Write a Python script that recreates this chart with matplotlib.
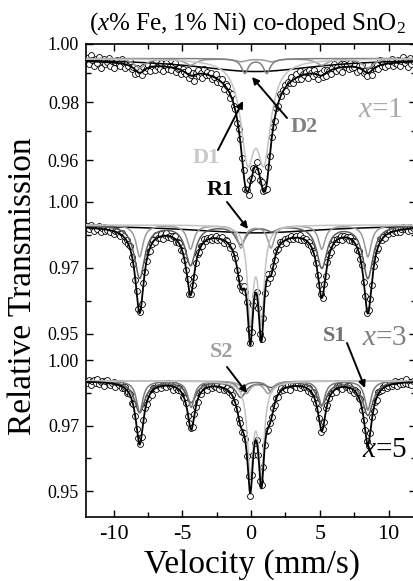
import numpy as np
import matplotlib
matplotlib.use('Agg')
import matplotlib.pyplot as plt
from matplotlib import ticker

plt.rcParams['font.family'] = ['Liberation Serif', 'DejaVu Serif']
plt.rcParams['mathtext.fontset'] = 'custom'
plt.rcParams['mathtext.rm'] = 'Liberation Serif'
plt.rcParams['mathtext.it'] = 'Liberation Serif:italic'
plt.rcParams['axes.unicode_minus'] = False

# fitted sub-spectra: line positions (mm/s), depths, half widths
# x = 1
base_1 = 0.995
x1_R1 = ([0.35], [0.0045], 5.5)
x1_D2 = ([-0.45, 1.15], [0.005, 0.005], 0.3)
x1_S = ([-8.1, -4.4, -0.75, 1.5, 5.15, 8.5], [0.0032, 0.0022, 0.001, 0.001, 0.0022, 0.0032], 0.5)
x1_D1 = ([-0.25, 0.95], [0.031, 0.031], 0.6)

# x = 3
base_3 = 0.9913
x3_R1 = ([0.35], [0.003], 6.0)
x3_S2 = ([-8.1, -4.4, -0.73, 1.45, 5.15, 8.5], [0.012, 0.009, 0.0085, 0.0085, 0.009, 0.012], 0.3)
x3_S1 = ([-8.1, -4.4, -0.75, 1.5, 5.15, 8.5], [0.020, 0.015, 0.007, 0.002, 0.016, 0.020], 0.45)
x3_D1 = ([-0.05, 0.75], [0.035, 0.035], 0.25)

# x = 5
base_5 = 0.992
x5_S2 = ([-0.35, 1.25], [0.0046, 0.0046], 0.35)
x5_S1 = ([-8.1, -4.35, -0.75, 1.45, 5.15, 8.5], [0.012, 0.010, 0.004, 0.004, 0.0095, 0.011], 0.28)
x5_S3 = ([-8.1, -4.35, -0.75, 1.45, 5.15, 8.5], [0.012, 0.008, 0.006, 0.002, 0.009, 0.013], 0.45)
x5_D1 = ([-0.05, 0.75], [0.034, 0.034], 0.25)

# scatter of the measured points around the fit (units of 1e-4)
res_1 = [12, -8, 21, 5, -15, 9, -3, 17, -20, 4, 11, -6, 0, 14, -11, 7, -18, 3, 10, -4,
         -9, 16, 2, -13, 8, -1, 19, -7, 5, -16, 12, -2, 6, -10, 15, -5, 1, 9, -14, 3,
         7, -12, 18, -3, -8, 11, -17, 4, 13, -6, 2, -9, 10, 16, -11, 0, 6, -15, 8, -2,
         -5, 14, -10, 3, 9, -19, 5, 12, -7, 1, -13, 17, -4, 8, -1, 11, -8, 2, 15, -12,
         4, -6, 13, -16, 7, 10, -3, -11, 18, -5, 6, -14, 1, 9, -2, 12, -9, 5, -17, 14,
         -3, 8, -10, 16, 0, -7, 11, -1, 4, -15, 13, -5, 9, 2, -12, 7, -8, 15, -4, 3,
         10, -18, 6, -2, 14, -9, 1, 12, -6, 17, -11, 5, -3, 8, -14, 11, 2, -7, 13, -1,
         -16, 4, 9, -5, 15, -10, 7, 0, -13, 6, 18, -8, 3, -4, 11, -15, 10, -2, 5, -9,
         14, -6, 1, 12, -17, 8, -3, 16, -7, 4, -11, 9, 2, -14, 13, -1, 6, -10, 19, -5,
         3, -12, 11, -4, 7, 15, -9, 0, -6, 10, -13, 5, 17, -2, 8, -16, 12, -7, 4, 9]
res_3 = [8, -5, 12, 3, -10, 6, -2, 11, -13, 2, 7, -4, 0, 9, -7, 5, -12, 2, 6, -3,
         -6, 10, 1, -9, 5, 0, 13, -5, 3, -11, 8, -1, 4, -7, 10, -3, 1, 6, -9, 2,
         5, -8, 12, -2, -5, 7, -11, 3, 9, -4, 1, -6, 7, 11, -7, 0, 4, -10, 5, -1,
         -3, 9, -7, 2, 6, -12, 3, 8, -5, 1, -9, 11, -3, 5, -1, 7, -5, 1, 10, -8,
         3, -4, 9, -11, 5, 7, -2, -7, 12, -3, 4, -9, 1, 6, -1, 8, -6, 3, -11, 9,
         -2, 5, -7, 10, 0, -5, 7, -1, 3, -10, 9, -3, 6, 1, -8, 5, -5, 10, -3, 2,
         7, -12, 4, -1, 9, -6, 1, 8, -4, 11, -7, 3, -2, 5, -9, 7, 1, -5, 9, -1,
         -10, 3, 6, -3, 10, -7, 5, 0, -9, 4, 12, -5, 2, -3, 7, -10, 7, -1, 3, -6,
         9, -4, 1, 8, -11, 5, -2, 10, -5, 3, -7, 6, 1, -9, 8, -1, 4, -7, 12, -3,
         2, -8, 7, -3, 5, 10, -6, 0, -4, 7, -9, 3, 11, -1, 5, -10, 8, -5, 3, 6]
res_5 = [-4, 9, -11, 3, 7, -2, 12, -8, 1, 5, -13, 6, 10, -3, -7, 2, 8, -10, 4, 0,
         11, -6, -1, 7, -9, 3, 5, -12, 9, -2, -5, 8, 1, -8, 6, 12, -4, -1, 3, -11,
         7, 2, -6, 10, -3, -9, 5, 1, -7, 11, -2, 4, -12, 6, 0, -5, 9, 3, -8, 2,
         6, -10, 1, 8, -4, 5, -1, -9, 12, -6, 3, 7, -2, -11, 4, 9, -5, 1, -3, 10,
         -7, 2, 11, -8, 0, 6, -4, 9, -1, -12, 5, 3, -6, 8, -9, 1, 7, -3, 4, -10,
         12, -2, -5, 6, 3, -8, 10, -1, -4, 7, -11, 2, 5, 9, -6, 0, -9, 4, 8, -3,
         1, -7, 6, -12, 10, 3, -2, -5, 9, -8, 4, 11, -1, 2, -10, 6, -4, 7, -6, 1,
         5, 8, -9, 3, -3, 12, -7, 0, 6, -5, 2, -11, 9, 4, -1, -8, 10, -2, 3, 7,
         -6, 1, -10, 5, 8, -4, 11, -3, -7, 2, 6, -9, 0, 9, -5, 3, -12, 7, 1, -2,
         4, 10, -8, -1, 6, -6, 2, 9, -11, 5, -3, 8, -4, 0, 12, -7, 1, -9, 6, 3]

# y tick values (relative transmission) of each panel and their labels
ticks_1 = [1.00, 0.98, 0.96]
minor_1 = [0.99, 0.97]
ticks_35 = [1.00, 0.975, 0.95]
minor_35 = [0.9875, 0.9625]
labels_1 = ['1.00', '0.98', '0.96']
labels_35 = ['1.00', '0.97', '0.95']

C_D1 = '#c4c4c4'
C_D2 = '#808080'
C_S1 = '#5e5e5e'
C_S2 = '#9a9a9a'


def dips(v, comp):
    pos, depth, hw = comp
    out = np.zeros_like(v)
    for p, d in zip(pos, depth):
        out += d / (1 + ((v - p) / hw) ** 2)
    return out


def main():
    fig = plt.figure(figsize=(4.13, 5.81), dpi=100)
    ax = fig.add_axes([86 / 413, 64 / 581, 330 / 413, 473 / 581])

    # panel stacking: offset of the 1.00 level and vertical scale
    panels = [
        (base_1, 1.0, 1.0, [(x1_R1, 'black'), (x1_S, C_S2), (x1_D2, C_D2), (x1_D1, C_D1)], res_1, ticks_1, minor_1, labels_1),
        (base_3, 0.94552, 0.9103, [(x3_R1, 'black'), (x3_S1, C_S1), (x3_S2, C_S2), (x3_D1, C_D1)], res_3, ticks_35, minor_35, labels_35),
        (base_5, 0.89103, 0.9034, [(x5_S3, C_S1), (x5_S1, '#7a7a7a'), (x5_S2, C_S2), (x5_D1, C_D1)], res_5, ticks_35, minor_35, labels_35),
    ]

    vfine = np.linspace(-12, 12, 1500)
    yt, yl, ym = [], [], []
    for base, off, sc, comps, res, tk, mn, lb in panels:
        def tr(t):
            return off + sc * (np.asarray(t) - 1.0)
        vel = np.linspace(-11.9, 11.9, len(res))
        fit_pts = base - sum(dips(vel, c) for c, _ in comps)
        pts = fit_pts + np.array(res) * 1e-4
        ax.scatter(vel, tr(pts), s=18, facecolors='white', edgecolors='black',
                   linewidths=0.6, zorder=2)
        for c, col in comps:
            ax.plot(vfine, tr(base - dips(vfine, c)), color=col, lw=1.1, zorder=3)
        total = base - sum(dips(vfine, c) for c, _ in comps)
        ax.plot(vfine, tr(total), color='black', lw=1.3, zorder=4)
        yt += list(tr(tk))
        yl += lb
        ym += list(tr(mn))

    ax.set_xlim(-12, 12)
    ax.set_ylim(0.8369, 1.0)
    ax.set_xticks([-10, -5, 0, 5, 10])
    ax.xaxis.set_minor_locator(ticker.MultipleLocator(2.5))
    ax.set_yticks(yt)
    ax.set_yticklabels(yl)
    ax.yaxis.set_minor_locator(ticker.FixedLocator(ym))
    ax.tick_params(which='both', direction='in', top=True, right=True, width=1)
    ax.tick_params(which='major', length=5)
    ax.tick_params(which='minor', length=3.5)
    ax.tick_params(axis='x', labelsize=16, pad=6)
    ax.tick_params(axis='y', labelsize=13, pad=5)
    for s in ax.spines.values():
        s.set_linewidth(1.2)

    fig.text(247 / 413, 1 - 30 / 581, r'($x$% Fe, 1% Ni) co-doped SnO$_2$',
             ha='center', va='baseline', fontsize=18)
    fig.text(23 / 413, 1 - 286 / 581, 'Relative Transmission', rotation=90,
             ha='center', va='center', fontsize=24)
    fig.text(252 / 413, 1 - 573 / 581, 'Velocity (mm/s)', ha='center',
             va='baseline', fontsize=24)

    fig.text(403 / 413, 1 - 117 / 581, r'$x$=1', ha='right', va='baseline', fontsize=21, color='#a8a8a8')
    fig.text(407 / 413, 1 - 345 / 581, r'$x$=3', ha='right', va='baseline', fontsize=21, color='#808080')
    fig.text(407 / 413, 1 - 457 / 581, r'$x$=5', ha='right', va='baseline', fontsize=21, color='black')

    labels = [('D1', 206, 158, '#c8c8c8'), ('D2', 304, 127, '#808080'), ('R1', 220, 190, 'black'),
              ('S2', 222, 352, '#a0a0a0'), ('S1', 335, 336, '#707070')]
    for t, px, py, col in labels:
        fig.text(px / 413, 1 - py / 581, t, ha='center', va='center', fontsize=16,
                 fontweight='bold', color=col)

    arrows = [((218, 150), (243, 101)), ((287, 118), (252, 77)), ((227, 202), (248, 229)),
              ((227, 367), (247, 393)), ((347, 343), (365, 388))]
    for (tx, ty), (hx, hy) in arrows:
        ax.annotate('', xy=(hx / 413, 1 - hy / 581), xytext=(tx / 413, 1 - ty / 581),
                    xycoords='figure fraction', textcoords='figure fraction',
                    arrowprops=dict(arrowstyle='-|>', color='black', lw=1.4,
                                    mutation_scale=10, shrinkA=0, shrinkB=0))

    fig.savefig('out.png', dpi=100)


if __name__ == '__main__':
    main()
